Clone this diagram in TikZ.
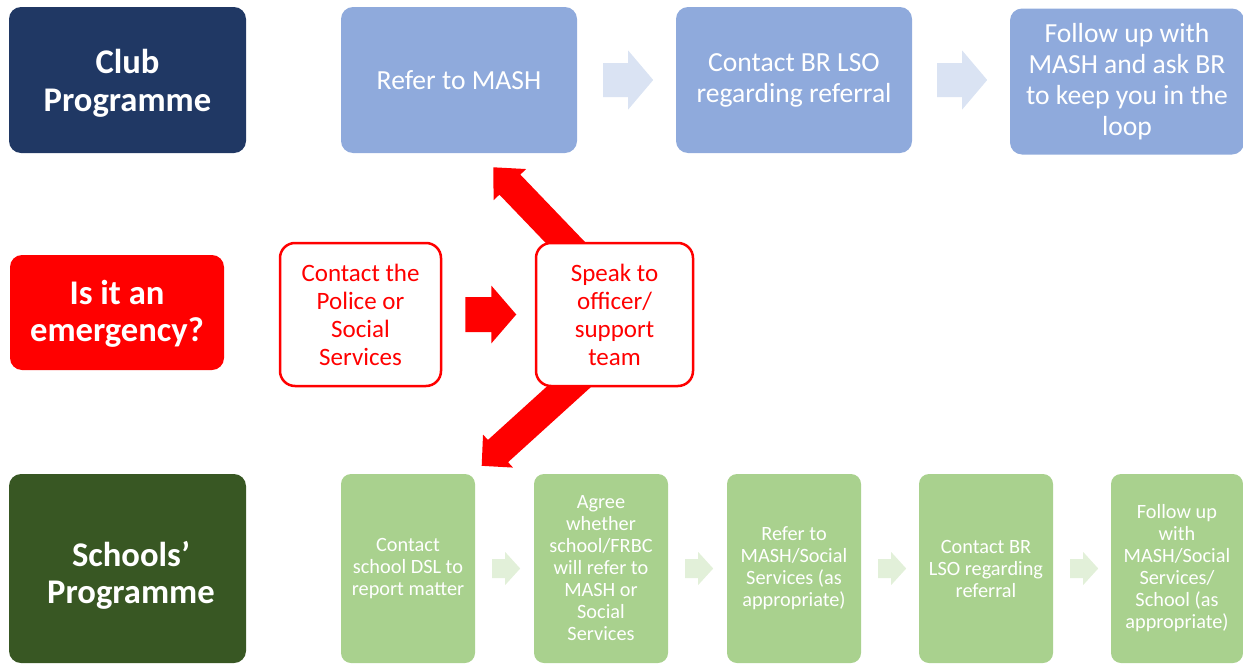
\documentclass[tikz,border=0pt]{standalone}
\usepackage{fontspec}
\setmainfont{Carlito}
\usetikzlibrary{calc,backgrounds}
\definecolor{navy}{HTML}{203864}
\definecolor{bluebox}{HTML}{8FAADC}
\definecolor{bluearr}{HTML}{DAE3F3}
\definecolor{gdark}{HTML}{385723}
\definecolor{gbox}{HTML}{A9D18E}
\definecolor{garr}{HTML}{E2F0D9}
\definecolor{pured}{HTML}{FF0000}
\tikzset{
  pics/barrow/.style n args={4}{code={
    \fill (0,-#2) -- ({#1-#4},-#2) -- ({#1-#4},-#3) -- (#1,0) -- ({#1-#4},#3) -- ({#1-#4},#2) -- (0,#2) -- cycle;}},
  box/.style={rounded corners=12pt, inner sep=0pt, align=center},
  headbox/.style={box, fill=#1},
  headtext/.style={inner sep=0pt, align=center, text=white, font=\fontsize{34.6}{37.5}\selectfont\bfseries},
  bluestep/.style={box, fill=bluebox, text=white, minimum width=236pt, minimum height=146pt,
    font=\fontsize{27.6}{31}\selectfont},
  redstep/.style={box, rounded corners=15pt, draw=pured, line width=2.5pt, fill=white, text=pured,
    minimum height=143pt, font=\fontsize{25}{28}\selectfont},
  greenstep/.style={box, rounded corners=10pt, fill=gbox, text=white, minimum width=134pt,
    minimum height=189pt, font=\fontsize{20.3}{22}\selectfont},
}
\begin{document}
\begin{tikzpicture}[x=1pt,y=-1pt]
\useasboundingbox (0,0) rectangle (1243,664);
% top row
\node[headbox=navy, minimum width=237pt, minimum height=146pt,
  label={[headtext, yshift=-3.5pt]center:{Club\\Programme}}] (club) at (127.5,80) {};
\node[bluestep] (mash) at (459,80) {Refer to MASH};
\node[bluestep] (lso) at (794,80) {Contact BR LSO\\regarding referral};
\node[bluestep, minimum width=234pt] (fup) at (1127,81.5) {Follow up with\\MASH and ask BR\\to keep you in the\\loop};
% middle row
\node[headbox=pured, minimum width=214pt, minimum height=115pt,
  label={[headtext, yshift=-1.5pt]center:{Is it an\\emergency?}}] (emerg) at (117,312.5) {};
\node[redstep, minimum width=161pt] (police) at (360.5,314.5) {Contact the\\Police or\\Social\\Services};
\node[redstep, minimum width=157pt] (speak) at (614.5,314.5) {Speak to\\officer/\\support\\team};
% bottom row
\node[headbox=gdark, minimum width=237pt, minimum height=189pt,
  label={[headtext, yshift=-7pt, xshift=3.5pt]center:{Schools’\\Programme}}] (schools) at (127.5,568.5) {};
\node[greenstep] (g1) at (408,568.5) {Contact\\school DSL to\\report matter};
\node[greenstep] (g2) at (601,568.5) {Agree\\whether\\school/FRBC\\will refer to\\MASH or\\Social\\Services};
\node[greenstep] (g3) at (794,568.5) {Refer to\\MASH/Social\\Services (as\\appropriate)};
\node[greenstep] (g4) at (986,568.5) {Contact BR\\LSO regarding\\referral};
\node[greenstep, minimum width=132pt] (g5) at (1177,568.5) {Follow up\\with\\MASH/Social\\Services/\\School (as\\appropriate)};
% tails of the block arrows
\coordinate (a1) at ($(mash.east)+(26,0)$);
\coordinate (a2) at ($(lso.east)+(25,0)$);
\coordinate (a3) at ($(police.east)+(23,0)$);
\coordinate (d1) at ($(speak.center)+(-28.5,-50.5)$);
\coordinate (d2) at ($(speak.center)+(-20.5,49.5)$);
\coordinate (b1) at ($(g1.east)+(17,0)$);
\coordinate (b2) at ($(g2.east)+(17,0)$);
\coordinate (b3) at ($(g3.east)+(17,0)$);
\coordinate (b4) at ($(g4.east)+(17,0)$);
\pic[color=bluearr] at (a1) {barrow={50}{17}{29.5}{25}};
\pic[color=bluearr] at (a2) {barrow={50}{17}{29.5}{25}};
\pic[color=pured] at (a3) {barrow={51}{17.5}{29}{25}};
\begin{pgfonlayer}{background}
\pic[color=pured, rotate=133.8] at (d1) {barrow={134}{14.5}{22.5}{24}};
\pic[color=pured, rotate=222.2] at (d2) {barrow={151.6}{15}{22.3}{22}};
\end{pgfonlayer}
\foreach \b in {b1,b2,b3,b4}
  \pic[color=garr] at (\b) {barrow={28}{9.5}{16.5}{15}};
\end{tikzpicture}
\end{document}
